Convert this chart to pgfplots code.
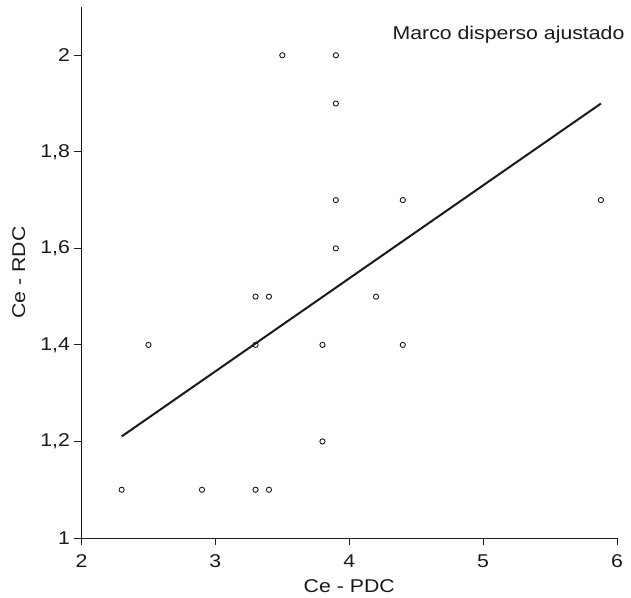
\documentclass[border=0pt]{standalone}
\usepackage{fontspec}
\setmainfont{Liberation Sans}[FakeStretch=1.15]
\usepackage{pgfplots}
\pgfplotsset{compat=1.18}
\definecolor{ink}{HTML}{1A1A1A}
\newcommand\ff{\fontsize{18.5}{21}\selectfont}
\begin{document}
\begin{tikzpicture}
\begin{axis}[
    scale only axis, width=535.5pt, height=531pt,
    xmin=2, xmax=6, ymin=1, ymax=2.1,
    axis x line=bottom, axis y line=left,
    axis line style={-, ink, line width=1pt},
    tick align=outside, major tick length=7pt,
    tick style={ink, line width=0.9pt},
    xtick={2,3,4,5,6}, ytick={1,1.2,1.4,1.6,1.8,2},
    /pgf/number format/assume math mode=true,
    /pgf/number format/use comma,
    tick label style={font=\ff, text=ink},
    xticklabel style={yshift=-6pt},
    yticklabel style={xshift=-1pt},
    every axis x label/.style={at={(axis description cs:0.5,-0.1017)}, anchor=base},
    every axis y label/.style={at={(axis description cs:-0.1055,0.5)}, rotate=90, anchor=base},
    label style={font=\ff, text=ink},
    xlabel={Ce - PDC}, ylabel={Ce - RDC},
    clip=false,
]
% observaciones
\addplot[only marks, mark=o, mark size=2.6pt, mark options={ink, line width=0.9pt}] coordinates {
    (2.3,1.1) (2.9,1.1) (3.3,1.1) (3.4,1.1)
    (3.8,1.2)
    (2.5,1.4) (3.3,1.4) (3.8,1.4) (4.4,1.4)
    (3.3,1.5) (3.4,1.5) (4.2,1.5)
    (3.9,1.6)
    (3.9,1.7) (4.4,1.7) (5.88,1.7)
    (3.9,1.9)
    (3.5,2.0) (3.9,2.0)
};
% recta ajustada
\addplot[ink, line width=2pt] coordinates {(2.3,1.2104) (5.88,1.900)};
\node[anchor=base east, font=\ff, text=ink] at (axis description cs:1.0205,0.9397) {Marco disperso ajustado};
\end{axis}
\pgfresetboundingbox
\path[use as bounding box] (current axis.south west) ++(-81.5pt,-59pt) rectangle ++(631pt,597pt);
\end{tikzpicture}
\end{document}
